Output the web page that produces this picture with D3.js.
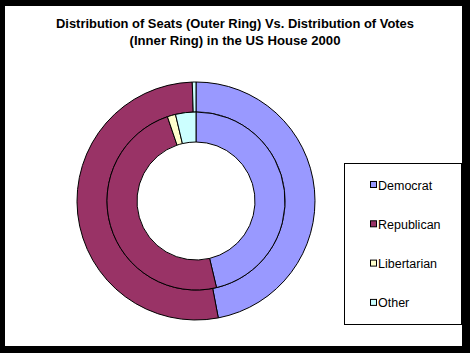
<!DOCTYPE html>
<html>
<head>
<meta charset="utf-8">
<script src="https://cdn.jsdelivr.net/npm/d3@7"></script>
<style>
  body { margin: 0; background: #000; }
  svg { display: block; }
  text { font-family: Arial, "Liberation Sans", sans-serif; }
</style>
</head>
<body>
<div id="chart"></div>
<script>
// parties, in the order they are drawn (clockwise from 12 o'clock)
const parties = ["Democrat", "Republican", "Libertarian", "Other"];
const partyColors = ["#9999FF", "#993366", "#FFFFCC", "#CCFFFF"];

// share of seats (outer ring) and of votes (inner ring), percent
const seatShares = [47.0, 52.5, 0, 0.5];
const voteShares = [46.3, 48.5, 1.5, 3.7];

const titleLines = [
    "Distribution of Seats (Outer Ring) Vs. Distribution of Votes",
    "(Inner Ring) in the US House 2000"
];

const width = 470, height = 353;

let svg = d3.select("#chart").append("svg")
    .attr("width", width)
    .attr("height", height);

// black frame, white chart area
svg.append("rect")
    .attr("width", width).attr("height", height)
    .attr("fill", "#000");
svg.append("rect")
    .attr("x", 5).attr("y", 6)
    .attr("width", 457).attr("height", 340)
    .attr("fill", "#fff");

// title
svg.append("g").selectAll("text")
    .data(titleLines)
    .enter()
    .append("text")
    .attr("x", 235)
    .attr("y", (d, i) => 28 + i * 17)
    .attr("text-anchor", "middle")
    .attr("font-size", "13px")
    .attr("font-weight", "bold")
    .attr("fill", "#000")
    .attr("textLength", (d, i) => i === 0 ? 358 : 211)
    .attr("lengthAdjust", "spacingAndGlyphs")
    .text(d => d);

let color = d3.scaleOrdinal().domain(parties).range(partyColors);

let pie = d3.pie().sort(null).value(d => d.value);

let donut = svg.append("g")
    .attr("transform", "translate(196,201)");

function drawRing(values, inner, outer) {
    let rows = parties.map((p, i) => ({party: p, value: values[i]}));
    let arc = d3.arc().innerRadius(inner).outerRadius(outer);
    donut.append("g").selectAll("path")
        .data(pie(rows).filter(d => d.data.value > 0))
        .enter()
        .append("path")
        .attr("d", arc)
        .attr("fill", d => color(d.data.party))
        .attr("stroke", "#000")
        .attr("stroke-width", 1);
}

drawRing(seatShares, 89, 119);
drawRing(voteShares, 59, 89);

// legend
let legend = svg.append("g");

legend.append("rect")
    .attr("x", 344.5).attr("y", 163.5)
    .attr("width", 117).attr("height", 161)
    .attr("fill", "#fff")
    .attr("stroke", "#000")
    .attr("stroke-width", 1);

let items = legend.selectAll(".item")
    .data(parties)
    .enter()
    .append("g")
    .attr("class", "item")
    .attr("transform", (d, i) => `translate(370, ${185 + i * 39.3})`);

items.append("rect")
    .attr("x", 0.5).attr("y", -3.5)
    .attr("width", 6).attr("height", 6)
    .attr("fill", d => color(d))
    .attr("stroke", "#000")
    .attr("stroke-width", 1);

items.append("text")
    .attr("x", 8)
    .attr("y", 4.5)
    .attr("font-size", "12.5px")
    .attr("fill", "#000")
    .text(d => d);
</script>
</body>
</html>
